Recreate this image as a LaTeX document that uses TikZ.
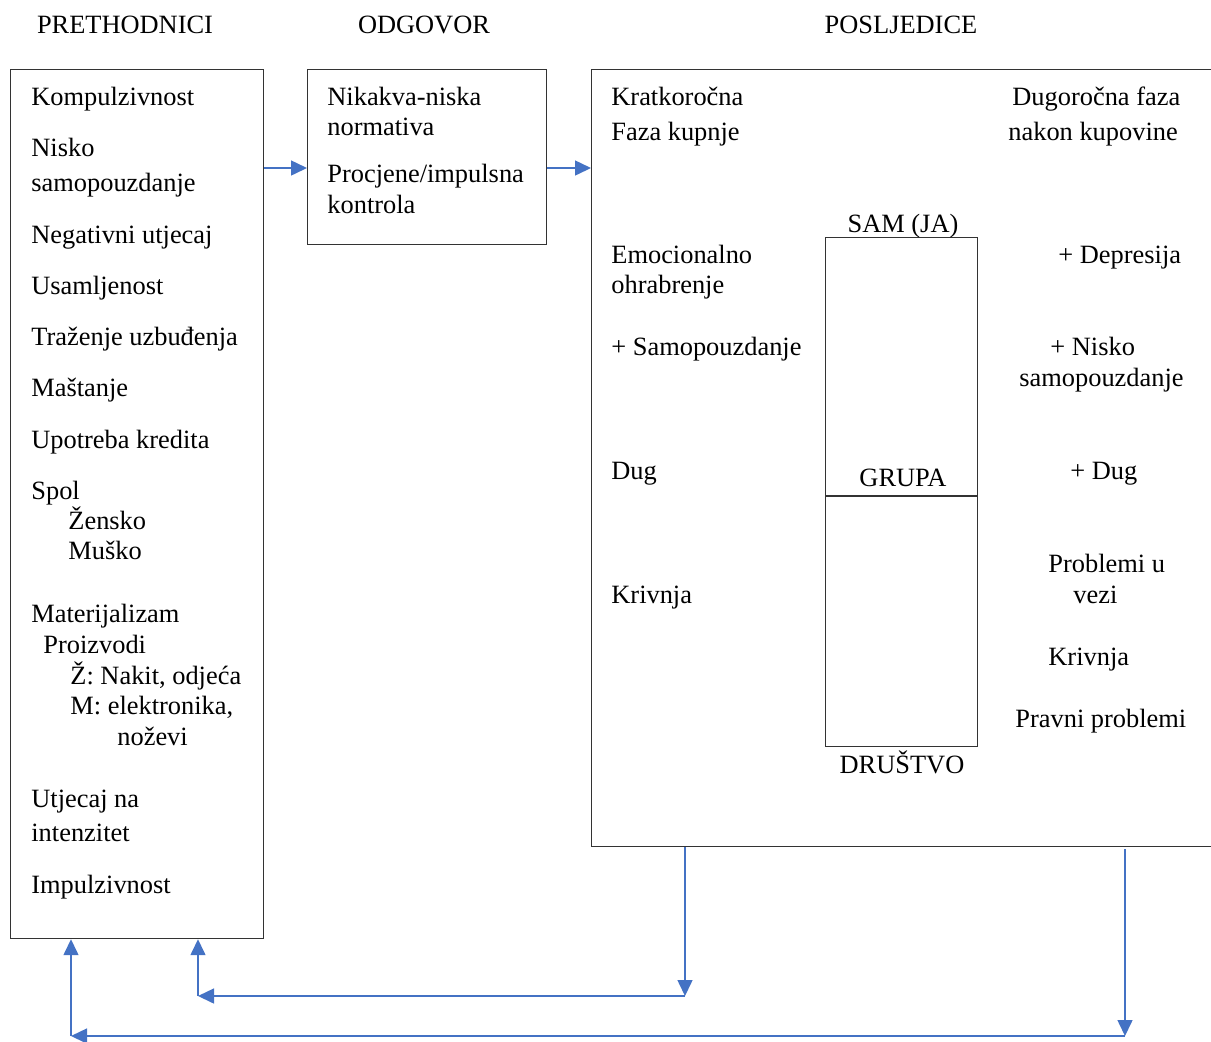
\documentclass[tikz,border=0pt]{standalone}
\usepackage{fontspec}
\setmainfont{Liberation Serif}
\usetikzlibrary{arrows.meta}
\definecolor{conn}{HTML}{4472C4}
\definecolor{edge}{HTML}{333333}
\tikzset{
  px/.style={x=0.5pt,y=-0.5pt},
  txt/.style={anchor=base west, inner sep=0pt, font=\fontsize{13.2}{16}\selectfont},
  ctxt/.style={anchor=base, inner sep=0pt, font=\fontsize{13.2}{16}\selectfont},
  boxnode/.style={draw=edge, line width=0.6pt, inner sep=0pt, anchor=north west},
  arr/.style={draw=conn, line width=0.75pt, -{Triangle[width=7.5pt,length=8pt]}},
  plain/.style={draw=conn, line width=0.75pt}
}
\begin{document}
\begin{tikzpicture}[px]
\path[use as bounding box] (0,0) rectangle (1211,1041);
% headers
\node[ctxt] (h1) at (125,33) {PRETHODNICI};
\node[ctxt] (h2) at (424,33) {ODGOVOR};
\node[ctxt] (h3) at (901,33) {POSLJEDICE};
% boxes
\node[boxnode, minimum width=126.5pt, minimum height=434.5pt] (lb) at (10,69) {};
\node[boxnode, minimum width=119.5pt, minimum height=87.5pt] (mb) at (307,69) {};
\node[boxnode, minimum width=315pt, minimum height=388.5pt] (bb) at (591,69) {};
\node[boxnode, minimum width=76pt, minimum height=254.5pt] (ib) at (825,237) {};
\coordinate (dv) at (0,496);
\draw[edge, line width=0.6pt] (ib.west |- dv) -- (ib.east |- dv);
% left box texts
\node[txt] (l1) at (31,105) {Kompulzivnost};
\node[txt] (l2) at (31,156) {Nisko};
\node[txt] (l3) at (31,191) {samopouzdanje};
\node[txt] (l4) at (31,243) {Negativni utjecaj};
\node[txt] (l5) at (31,294) {Usamljenost};
\node[txt] (l6) at (31,345) {Traženje uzbuđenja};
\node[txt] (l7) at (31,396) {Maštanje};
\node[txt] (l8) at (31,448) {Upotreba kredita};
\node[txt] (l9) at (31,499) {Spol};
\node[txt] (l10) at (68,529) {Žensko};
\node[txt] (l11) at (68,559) {Muško};
\node[txt] (l12) at (31,622) {Materijalizam};
\node[txt] (l13) at (43,653) {Proizvodi};
\node[txt] (l14) at (70,684) {Ž: Nakit, odjeća};
\node[txt] (l15) at (70,714) {M: elektronika,};
\node[txt] (l16) at (117,745) {noževi};
\node[txt] (l17) at (31,807) {Utjecaj na};
\node[txt] (l18) at (31,841) {intenzitet};
\node[txt] (l19) at (31,893) {Impulzivnost};
% middle box texts
\node[txt] (m1) at (327,105) {Nikakva-niska};
\node[txt] (m2) at (327,135) {normativa};
\node[txt] (m3) at (327,182) {Procjene/impulsna};
\node[txt] (m4) at (327,213) {kontrola};
% big box left column
\node[txt] (b1) at (611,105) {Kratkoročna};
\node[txt] (b2) at (611,140) {Faza kupnje};
\node[txt] (b3) at (611,263) {Emocionalno};
\node[txt] (b4) at (611,293) {ohrabrenje};
\node[txt] (b5) at (611,355) {+ Samopouzdanje};
\node[txt] (b6) at (611,479) {Dug};
\node[txt] (b7) at (611,603) {Krivnja};
% big box right column
\node[txt] (r1) at (1012,105) {Dugoročna faza};
\node[txt] (r2) at (1008,140) {nakon kupovine};
\node[txt] (r3) at (1058,263) {+ Depresija};
\node[txt] (r4) at (1050,355) {+ Nisko};
\node[txt] (r5) at (1019,386) {samopouzdanje};
\node[txt] (r6) at (1070,479) {+ Dug};
\node[txt] (r7) at (1048,572) {Problemi u};
\node[txt] (r8) at (1073,603) {vezi};
\node[txt] (r9) at (1048,665) {Krivnja};
\node[txt] (r10) at (1015,727) {Pravni problemi};
% inner box labels
\node[ctxt] (s1) at (903,232) {SAM (JA)};
\node[ctxt] (s2) at (903,486) {GRUPA};
\node[ctxt] (s3) at (902,773) {DRUŠTVO};
% connectors
\coordinate (y1) at (0,168);
\draw[arr] (lb.east |- y1) -- (mb.west |- y1);
\draw[arr] (mb.east |- y1) -- (bb.west |- y1);
\coordinate (c1) at (685,996);
\coordinate (c2) at (198,996);
\coordinate (c3) at (1125,1036);
\coordinate (c4) at (71,1036);
\coordinate (c5) at (1125,849);
\draw[arr] (bb.south -| c1) -- (c1);
\draw[arr] (c1) -- (c2);
\draw[arr] (c2) -- (lb.south -| c2);
\draw[arr] (c5) -- (c3);
\draw[arr] (c3) -- (c4);
\draw[arr] (c4) -- (lb.south -| c4);
\end{tikzpicture}
\end{document}
